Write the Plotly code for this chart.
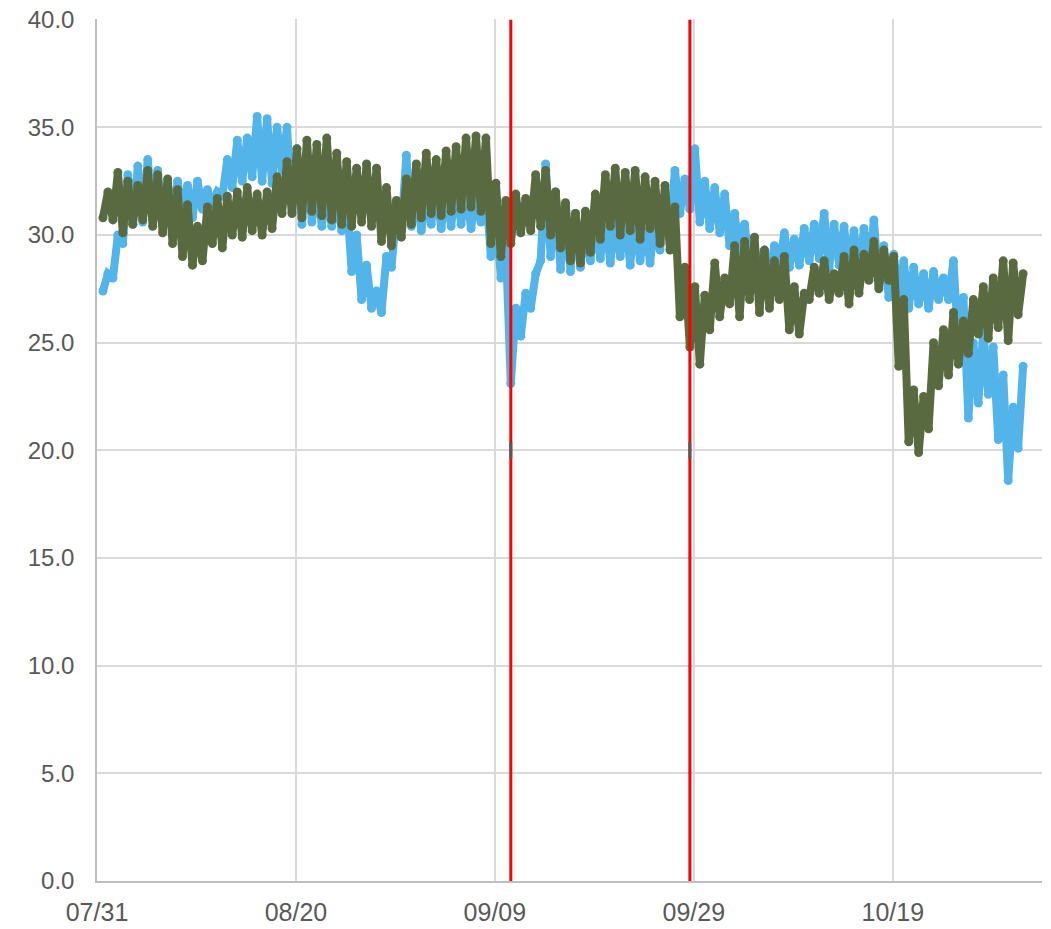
import pandas as pd
import plotly.graph_objects as go

START = "2023-07-31"
# daily high / low readings (one entry per day from 07/31)
GREEN_HIGH = [32.0, 32.9, 32.5, 32.3, 33.0, 32.8, 32.6, 32.1, 31.4, 30.4,
              31.3, 31.7, 31.8, 32.0, 32.2, 31.9, 32.0, 32.7, 33.4, 34.0,
              34.4, 34.2, 34.5, 33.8, 33.4, 33.1, 33.3, 33.1, 32.2, 31.6,
              32.6, 33.3, 33.8, 33.5, 33.9, 34.1, 34.5, 34.6, 34.5, 32.4,
              31.6, 31.9, 31.7, 32.8, 33.0, 32.0, 31.5, 31.0, 31.1, 31.9,
              32.8, 33.1, 32.9, 33.0, 32.7, 32.5, 32.3, 31.3, 28.5, 27.6,
              27.2, 28.7, 28.0, 29.5, 29.7, 29.9, 29.3, 28.8, 29.0, 27.6,
              27.3, 28.5, 28.8, 28.2, 29.0, 29.3, 29.1, 29.7, 29.3, 29.0,
              27.0, 22.8, 22.5, 25.0, 25.6, 26.4, 26.0, 27.0, 27.6, 28.0,
              28.8, 28.7, 28.2]
GREEN_LOW = [30.8, 30.7, 30.1, 30.5, 30.7, 30.4, 30.1, 29.6, 29.0, 28.6,
             28.8, 29.6, 29.4, 30.0, 29.9, 30.2, 30.0, 30.3, 31.0, 31.0,
             30.8, 31.1, 30.9, 30.7, 30.5, 30.4, 30.6, 30.4, 29.7, 29.5,
             29.9, 30.5, 30.8, 31.0, 30.9, 31.1, 31.2, 31.3, 31.1, 29.6,
             29.0, 29.6, 30.1, 30.2, 30.4, 30.0, 29.4, 28.8, 28.7, 29.2,
             29.8, 30.4, 30.0, 30.2, 29.8, 30.3, 29.6, 29.3, 26.2, 24.8,
             24.0, 25.6, 26.2, 26.8, 26.2, 27.0, 26.4, 26.6, 27.0, 25.6,
             25.4, 27.0, 27.3, 27.0, 27.3, 26.8, 27.3, 27.9, 27.5, 27.9,
             23.9, 20.4, 19.9, 21.0, 23.0, 23.5, 24.0, 24.5, 25.4, 25.2,
             25.7, 25.1, 26.3]
BLUE_HIGH = [28.2, 30.0, 32.8, 33.2, 33.5, 33.0, 32.4, 32.5, 32.3, 32.5,
             32.1, 32.0, 33.5, 34.4, 34.5, 35.5, 35.4, 35.0, 35.0, 34.0,
             33.5, 32.5, 32.2, 32.0, 31.8, 30.0, 28.6, 27.4, 29.0, 31.0,
             33.7, 32.0, 31.8, 32.4, 32.0, 32.5, 32.2, 31.8, 32.0, 31.0,
             29.5, 26.6, 27.3, 28.2, 33.3, 32.0, 31.4, 31.0, 30.5, 30.8,
             31.0, 30.8, 31.0, 30.9, 30.5, 30.8, 31.5, 33.0, 32.6, 34.0,
             32.5, 32.2, 31.9, 31.0, 30.5, 29.5, 29.3, 29.5, 30.1, 29.8,
             30.3, 30.5, 31.0, 30.5, 30.4, 30.2, 30.3, 30.7, 29.5, 29.1,
             28.8, 28.5, 28.2, 28.3, 28.0, 28.8, 27.1, 25.0, 25.6, 24.8,
             23.5, 22.0, 23.9]
BLUE_LOW = [27.4, 28.0, 29.6, 30.5, 30.6, 30.8, 30.8, 30.8, 31.0, 30.8,
            31.2, 31.4, 31.8, 32.2, 32.5, 32.7, 32.5, 32.4, 33.0, 31.1,
            30.5, 30.6, 30.4, 30.4, 30.2, 28.3, 27.0, 26.6, 26.4, 28.5,
            30.3, 30.4, 30.2, 30.5, 30.3, 30.4, 30.5, 30.3, 30.6, 29.0,
            28.0, 23.1, 25.3, 26.6, 28.8, 29.0, 28.4, 28.3, 28.5, 28.8,
            28.9, 28.7, 29.0, 28.6, 28.8, 28.7, 29.3, 30.2, 31.0, 31.2,
            30.6, 30.3, 30.1, 29.5, 29.0, 28.6, 28.3, 28.2, 28.5, 28.5,
            28.6, 28.8, 28.9, 28.5, 28.6, 28.3, 28.2, 28.4, 27.6, 27.1,
            27.0, 26.6, 26.8, 26.6, 27.0, 27.0, 24.8, 21.5, 22.2, 22.6,
            20.5, 18.6, 20.1]
EVENT_DAYS = [41.6, 59.6]
TICK_DAYS = [0, 20, 40, 60, 80]
Y_TICKS = [0, 5, 10, 15, 20, 25, 30, 35, 40]

base = pd.Timestamp(START)


def series(high, low):
    xs, ys = [], []
    for d, (h, l) in enumerate(zip(high, low)):
        xs.append(base + pd.Timedelta(days=d + 0.6))
        ys.append(l)
        xs.append(base + pd.Timedelta(days=d + 1.1))
        ys.append(h)
    return xs, ys


bx, by = series(BLUE_HIGH, BLUE_LOW)
gx, gy = series(GREEN_HIGH, GREEN_LOW)

BLUE = "#52B4E8"
GREEN = "#5A6A40"

fig = go.Figure()
fig.add_trace(go.Scatter(x=bx, y=by, mode="lines+markers",
                         line=dict(color=BLUE, width=8),
                         marker=dict(color=BLUE, size=9)))
fig.add_trace(go.Scatter(x=gx, y=gy, mode="lines+markers",
                         line=dict(color=GREEN, width=8),
                         marker=dict(color=GREEN, size=9)))
for ed in EVENT_DAYS:
    t = base + pd.Timedelta(days=ed)
    fig.add_trace(go.Scatter(x=[t, t], y=[Y_TICKS[0], Y_TICKS[-1]], mode="lines",
                             line=dict(color="#FF0000", width=3)))
    fig.add_trace(go.Scatter(x=[t], y=[20], mode="markers",
                             marker=dict(symbol="line-ns", size=12,
                                         line=dict(color="#595959", width=3))))

tickvals = [base + pd.Timedelta(days=d) for d in TICK_DAYS]
# the page body adds an 8px offset; the figure is sized to fill the rest
fig.update_layout(
    width=1043, height=921,
    margin=dict(l=89, r=9, t=11, b=48),
    plot_bgcolor="white", paper_bgcolor="white",
    showlegend=False, hovermode=False,
    font=dict(family="Liberation Sans, Arial, sans-serif", size=24, color="#595959"),
    xaxis=dict(range=[base, base + pd.Timedelta(days=95)],
               tickvals=tickvals, ticktext=[t.strftime("%m/%d") for t in tickvals],
               tickfont=dict(size=25),
               showgrid=True, gridcolor="#D9D9D9", gridwidth=1.5,
               showline=True, linecolor="#BFBFBF", linewidth=1.5,
               ticks="", zeroline=False, ticklabelstandoff=8, automargin=False),
    yaxis=dict(range=[0, 40.03], tickvals=Y_TICKS, tickformat=".1f",
               showgrid=True, gridcolor="#D9D9D9", gridwidth=1.5,
               showline=True, linecolor="#BFBFBF", linewidth=1.5,
               ticks="", zeroline=False, ticklabelstandoff=16, automargin=False,
               ticklabeloverflow="allow"),
)
fig.write_html("out.html")
